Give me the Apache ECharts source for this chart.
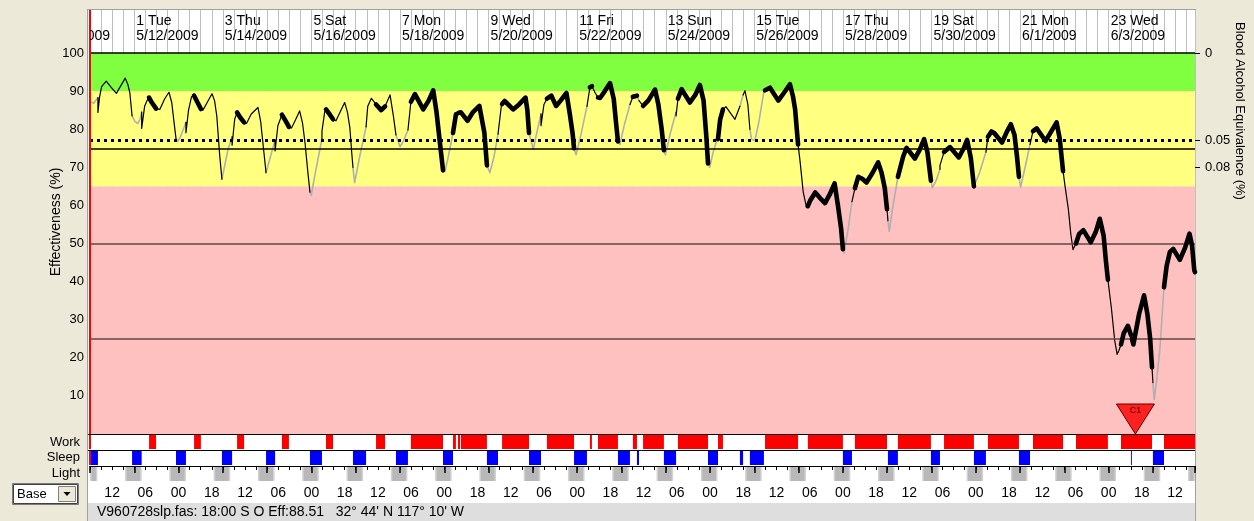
<!DOCTYPE html>
<html>
<head>
<meta charset="utf-8">
<script src="https://cdn.jsdelivr.net/npm/echarts@6/dist/echarts.min.js"></script>
<style>
  html, body { margin: 0; padding: 0; background: #ece9d8; }
  #wrap { position: relative; width: 1254px; height: 521px; overflow: hidden; }
  #panel { position: absolute; left: 87px; top: 9px; width: 1107px; height: 512px;
           background: #fff; border: 1px solid #a0a0a0; border-bottom: none; }
  #status { position: absolute; left: 88px; top: 503px; width: 1107px; height: 18px; background: #dedede; }
  #chart { position: absolute; left: 0; top: 0; width: 1254px; height: 521px; }
</style>
</head>
<body>
<div id="wrap">
  <div id="panel"></div>
  <div id="status"></div>
  <div id="chart"></div>
</div>
<script>
// ---- Schedule data (hours from 0:00 on 5/11/2009) ----

// Effectiveness (%) over time: [hour, value]; repeated hours mark the drop at wake-up
const effectiveness = [
  [0,87.3],[2.0,86.8],[4.3,88.3],[4.3,84.4],[5.2,88.5],[6.3,91.2],[8.8,92.6],[11.5,91.0],[14.3,89.4],[16.8,91.5],[19.1,93.4],[20.6,91.6],[21.6,89.5],[22.8,83.5],
  [24.4,82.0],[26.0,81.5],[27.2,82.8],[28.0,84.5],[28.0,80.2],
  [29.6,86.0],[31.0,87.6],[32.0,88.3],[33.5,87.0],[35.8,85.4],[37.8,85.2],[40.5,88.0],[42.8,89.7],[44.3,87.0],[45.5,82.0],[46.6,77.6],
  [47.6,76.8],[49.0,78.0],[51.0,80.5],[52.0,81.8],[52.0,79.1],
  [53.4,85.0],[55.0,88.5],[56.4,88.8],[58.3,87.0],[60.1,85.3],[61.2,85.0],[63.5,87.0],[66.1,89.3],[67.5,87.5],[68.7,83.5],[70.3,73.0],[71.5,66.9],
  [72.3,67.3],[74.8,74.7],[77.0,78.0],[77.0,75.8],
  [78.4,82.6],[79.7,84.4],[81.5,83.0],[83.5,81.8],[84.8,81.5],[87.4,84.0],[91.0,85.7],[92.5,82.0],[94.0,75.0],[95.4,68.6],
  [97.4,72.1],[100.3,77.2],[100.3,74.3],
  [101.8,80.9],[104.0,83.8],[106.0,82.2],[107.8,80.6],[109.2,80.3],[111.2,82.3],[113.6,84.8],[115.2,81.5],[116.5,76.5],[118.2,68.0],[119.2,63.5],
  [119.9,62.6],[121.7,67.5],[123.5,72.1],[125.7,77.5],[125.7,79.5],
  [127.2,84.6],[127.9,85.2],[130.0,83.8],[131.7,82.6],[133.3,82.2],[135.8,84.8],[138.0,87.0],[139.5,84.5],[140.8,80.5],[141.8,74.0],[142.5,70.0],
  [143.4,66.0],[146.1,72.7],[149.6,80.6],
  [150.5,86.0],[152.5,88.1],[155.0,86.5],[157.8,85.0],[159.9,86.0],[162.6,89.0],[164.4,83.5],[165.8,78.5],
  [168.0,75.4],[170.0,77.0],[172.3,79.8],
  [173.9,87.2],[176.1,89.2],[180.6,85.2],[183.5,87.5],[186.0,90.2],[187.8,84.4],[189.6,76.5],[191.3,69.2],
  [192.4,69.0],[194.2,72.9],[196.7,79.0],
  [198.3,83.9],[199.4,84.2],[200.5,84.4],[201.0,84.4],[204.6,82.2],[207.4,84.4],[211.0,86.1],[213.7,79.1],[215.1,70.5],
  [216.7,68.6],[218.8,72.5],[221.1,78.7],
  [222.9,86.1],[223.3,86.6],[224.7,87.4],[229.3,85.2],[232.5,86.5],[236.0,88.3],[237.0,85.0],[237.9,79.0],
  [240.2,74.7],[242.3,79.5],[244.4,84.0],[244.4,80.9],
  [246.0,86.5],[247.6,88.0],[250.0,88.8],[252.6,86.1],[255.0,87.5],[258.2,89.5],[260.0,84.0],[261.5,79.0],[262.3,75.0],
  [263.4,73.3],[266.0,78.5],[269.3,86.0],
  [270.9,91.0],[272.0,91.3],[273.8,89.5],[275.3,88.3],[276.4,88.2],[279.0,90.0],[281.8,92.1],[283.8,88.0],[285.2,81.0],[286.1,76.8],
  [287.2,76.0],[289.5,81.0],[292.6,86.5],
  [294.2,88.5],[296.4,88.8],[297.5,87.5],[299.7,86.1],[302.5,87.5],[306.2,90.4],[308.0,86.5],[309.8,80.0],[311.0,74.5],
  [311.8,73.3],[314.5,79.0],[317.6,84.5],[317.6,83.5],
  [318.6,88.0],[320.6,90.5],[325.1,87.0],[328.0,89.0],[330.5,91.6],[332.5,87.5],[334.0,78.0],[334.9,71.0],
  [335.8,70.0],[338.0,74.5],[340.3,78.0],[340.3,77.4],
  [341.5,82.6],[343.0,85.2],[344.6,85.9],[349.5,82.6],[352.2,86.0],[353.9,89.0],[354.9,90.1],[356.5,86.5],[357.6,80.0],
  [358.5,77.4],[360.3,77.0],[362.5,82.0],[365.2,90.0],
  [365.8,90.2],[368.5,90.9],[373.0,87.5],[376.0,89.5],[379.3,91.8],[381.0,88.5],[382.1,85.2],[383.7,76.0],
  [384.8,71.5],[386.5,63.5],[388.3,59.4],[389.0,59.8],
  [390.2,61.2],[393.0,63.4],[395.5,62.0],[398.3,60.6],[401.0,63.0],[403.5,65.8],[405.3,60.0],[407.0,54.0],[408.0,48.5],
  [408.6,47.5],[410.9,54.0],[412.9,61.0],
  [414.5,64.5],[416.3,67.5],[418.5,67.0],[420.8,66.0],[424.0,68.5],[427.1,71.3],[429.0,68.5],[430.7,64.5],[431.9,59.0],[432.4,56.0],
  [433.1,53.2],[435.0,59.5],[437.8,67.5],
  [440.7,72.9],[442.5,75.1],[447.0,72.3],[449.5,74.5],[452.0,77.4],[453.8,74.0],[455.7,66.5],
  [456.5,64.6],[458.5,66.5],[460.6,69.5],[460.6,70.5],
  [462.8,74.0],[466.0,75.3],[470.8,72.6],[473.5,75.0],[475.3,77.2],[477.3,72.5],[479.0,65.0],
  [479.6,64.5],[482.0,68.5],[485.5,74.0],
  [486.6,78.0],[488.5,79.4],[490.0,79.0],[494.2,76.5],[497.0,79.5],[499.0,81.3],[501.0,78.5],[502.3,73.0],[503.4,67.5],
  [504.3,64.8],[506.5,69.5],[509.4,76.0],
  [511.0,79.5],[513.0,80.2],[517.8,76.9],[521.0,79.5],[523.8,81.8],[525.5,77.5],[527.3,69.0],
  [528.4,65.0],[530.2,58.9],[531.5,52.5],[532.7,48.4],[533.5,48.8],
  [534.3,50.0],[536.0,52.5],[538.3,53.5],[542.3,50.3],[545.0,53.0],[547.2,56.5],[549.3,52.0],[550.5,45.5],[551.6,40.5],
  [553.5,33.0],[555.3,24.5],[556.6,20.9],[557.6,22.0],
  [558.7,23.5],[560.2,26.5],[562.4,28.4],[564.1,26.0],[564.6,25.0],[565.4,23.5],[568.5,31.5],[571.2,36.4],[573.0,31.5],[574.5,25.0],[575.5,17.5],[576.0,13.5],
  [576.7,9.0],[578.0,14.0],[579.8,22.5],[582.0,38.5],
  [583.4,44.0],[585.2,47.8],[587.0,48.6],[590.6,45.7],[593.5,49.0],[595.8,52.6],[597.2,49.5],[598.4,43.0],[598.8,42.5]
];

// Sleep periods [start, end] in hours
const sleepPeriods = [
  [0,4.3],[22.8,28.0],[46.6,52.0],[71.5,77.0],[95.4,100.3],[119.2,125.7],[142.5,149.6],[165.8,172.3],
  [191.3,196.7],[215.1,221.1],[237.9,244.4],[262.3,269.3],[286.1,292.6],[296.4,297.5],[311.0,317.6],
  [334.9,340.3],[352.2,353.9],[357.6,365.2],[408.0,412.9],[432.4,437.8],[455.7,460.6],[479.0,485.5],
  [503.4,509.4],[564.1,564.6],[576.0,582.0]
];

// Work periods [start, end] in hours
const workPeriods = [
  [32.0,35.8],[56.4,60.1],[79.7,83.5],[104.0,107.8],[127.9,131.7],[155.0,159.9],[173.9,191.3],
  [196.7,198.3],[199.4,200.5],[201.0,215.1],[223.3,237.9],[247.6,262.3],[270.9,272.0],[275.3,286.1],
  [294.2,296.4],[299.7,311.0],[318.6,334.9],[340.3,343.0],[365.8,383.7],[389.0,408.0],[414.5,431.9],
  [437.8,455.7],[462.8,479.0],[486.6,503.4],[511.0,527.3],[534.3,551.6],[558.7,575.5],[582.0,598.8]
];

// Darkness periods for the light row [start, end] in hours
const darkPeriods = [
  [-5,4],[19,28],[43,52],[67,76],[91,100],[115,124],[139,148],[163,172],[187,196],[211,220],
  [235,244],[259,268],[283,292],[307,316],[331,340],[355,364],[379,388],[403,412],[427,436],
  [451,460],[475,484],[499,508],[523,532],[547,556],[571,580],[595,604]
];

// Header date labels (day number from start, weekday, date)
const labelDays = [-1, 1, 3, 5, 7, 9, 11, 13, 15, 17, 19, 21, 23];
const labelWeekdays = ['Sun','Tue','Thu','Sat','Mon','Wed','Fri','Sun','Tue','Thu','Sat','Mon','Wed'];
const labelDates = ['5/10/2009','5/12/2009','5/14/2009','5/16/2009','5/18/2009','5/20/2009','5/22/2009',
                    '5/24/2009','5/26/2009','5/28/2009','5/30/2009','6/1/2009','6/3/2009'];

// Clock-hour tick labels along the bottom (hours from start)
const tickHours = [12,30,48,66,84,102,120,138,156,174,192,210,228,246,264,282,300,318,336,354,
                   372,390,408,426,444,462,480,498,516,534,552,570,588];

// Effectiveness zones and reference lines
const zoneBounds = [0, 65, 90, 100];
const criterionDotted = 77;
const criterionSolid = 75;
const guideLines = [50, 25];

// Blood alcohol equivalence scale (effectiveness value -> BAC label)
const bacAt = [100, 77, 70];
const bacLabels = ['0', '0.05', '0.08'];

// Marked events
const eventNames = ['C1'];
const eventHours = [566.5];

const startHour = 0;
const endHour = 598.8;

// ---- Layout ----
const FONT = '"Liberation Sans", Arial, sans-serif';
const L = 90, R = 59;
const rows = {
  header: { top: 10, height: 43 },
  main:   { top: 53, height: 381 },
  work:   { top: 435, height: 14 },
  sleep:  { top: 451, height: 14 },
  light:  { top: 466, height: 15 }
};
const C = {
  green: '#80ff40', yellow: '#ffff80', pink: '#ffc0c0',
  grid: '#c0c0c0', guide: '#5e4747', work: '#ff0000', sleep: '#0000ff',
  nightEdge: '#d2d2d2', night: '#b8b8b8', marker: '#ff2020', sleepLine: '#b0b0b0'
};

function inAny(h, periods) {
  return periods.some(p => h >= p[0] && h < p[1]);
}
function segClass(a, b) {
  if (a[0] === b[0]) return 'wake';
  const m = (a[0] + b[0]) / 2;
  if (inAny(m, sleepPeriods)) return 'sleep';
  if (inAny(m, workPeriods)) return 'work';
  return 'wake';
}

// Split the effectiveness trace into runs by activity state
const runs = [];
for (let i = 0; i < effectiveness.length - 1; i++) {
  const cls = segClass(effectiveness[i], effectiveness[i + 1]);
  const last = runs[runs.length - 1];
  if (last && last.cls === cls) last.pts.push(effectiveness[i + 1]);
  else runs.push({ cls, pts: [effectiveness[i], effectiveness[i + 1]] });
}
const runStyle = {
  sleep: { color: C.sleepLine, width: 1.6, z: 3 },
  wake:  { color: '#000', width: 1.2, z: 4 },
  work:  { color: '#000', width: 4.6, z: 5 }
};
const curveSeries = runs.map(r => ({
  type: 'line', xAxisIndex: 1, yAxisIndex: 1, data: r.pts,
  showSymbol: false, symbol: 'none', silent: true, z: runStyle[r.cls].z,
  lineStyle: { color: runStyle[r.cls].color, width: runStyle[r.cls].width, cap: 'round', join: 'round' }
}));

function intervalRender(fillFn) {
  return function (params, api) {
    const p0 = api.coord([api.value(0), 1]);
    const p1 = api.coord([api.value(1), 0]);
    const cs = params.coordSys;
    const shape = echarts.graphic.clipRectByRect(
      { x: p0[0], y: p0[1], width: p1[0] - p0[0], height: p1[1] - p0[1] },
      { x: cs.x, y: cs.y, width: cs.width, height: cs.height });
    if (!shape) return null;
    return fillFn(shape);
  };
}

const xBase = { type: 'value', min: startHour, max: endHour, interval: 6,
  axisLine: { show: false, onZero: false }, axisTick: { show: false }, axisLabel: { show: false }, splitLine: { show: false } };
const yUnit = (gi) => ({ type: 'value', gridIndex: gi, min: 0, max: 1, show: false });

function startLine(xi, yi) {
  return { type: 'line', xAxisIndex: xi, yAxisIndex: yi, data: [], silent: true, z: 8,
    markLine: { silent: true, symbol: ['none', 'none'], label: { show: false }, animation: false,
      lineStyle: { color: '#ff0000', width: 2, type: 'solid' }, data: [{ xAxis: startHour }] } };
}

const zoneColors = [C.pink, C.yellow, C.green];

const option = {
  animation: false,
  grid: [
    { left: L, right: R, top: rows.header.top, height: rows.header.height, backgroundColor: '#fff', show: true, borderWidth: 0 },
    { left: L, right: R, top: rows.main.top, height: rows.main.height },
    { left: L, right: R, top: rows.work.top, height: rows.work.height },
    { left: L, right: R, top: rows.sleep.top, height: rows.sleep.height },
    { left: L, right: R, top: rows.light.top, height: rows.light.height },
    { left: L, right: R, top: rows.light.top, height: rows.light.height }
  ],
  xAxis: [
    Object.assign({}, xBase, { gridIndex: 0, splitLine: { show: true, lineStyle: { color: C.grid, width: 1 } } }),
    Object.assign({}, xBase, { gridIndex: 1, splitLine: { show: true, lineStyle: { color: C.grid, width: 1 } } }),
    Object.assign({}, xBase, { gridIndex: 2 }),
    Object.assign({}, xBase, { gridIndex: 3 }),
    Object.assign({}, xBase, { gridIndex: 4, position: 'top', z: 6,
      axisLine: { show: true, onZero: false, lineStyle: { color: '#000', width: 1 } },
      axisTick: { show: true, inside: true, length: 4, lineStyle: { color: '#000', width: 1 } } }),
    Object.assign({}, xBase, { gridIndex: 4, position: 'bottom',
      axisLabel: { show: true, customValues: tickHours, margin: 5, color: '#000', fontSize: 14, fontFamily: FONT,
        formatter: v => String(Math.round(v) % 24).padStart(2, '0') } }),
    Object.assign({}, xBase, { gridIndex: 5, position: 'top', interval: 24, z: 6,
      axisLine: { show: false, onZero: false },
      axisTick: { show: true, inside: true, length: 7, lineStyle: { color: '#000', width: 1.5 } } })
  ],
  yAxis: [
    yUnit(0),
    { type: 'value', gridIndex: 1, min: 0, max: 100, interval: 10, position: 'left',
      axisLine: { show: false }, axisTick: { show: false },
      axisLabel: { color: '#000', fontSize: 13, fontFamily: FONT, margin: 6, formatter: v => (v === 0 ? '' : String(v)) },
      splitLine: { show: true, lineStyle: { color: C.grid, width: 1 } } },
    { type: 'value', gridIndex: 1, min: 0, max: 100, position: 'right',
      axisLine: { show: false }, splitLine: { show: false },
      axisTick: { show: true, customValues: bacAt, length: 5, lineStyle: { color: '#000', width: 1 } },
      axisLabel: { show: true, customValues: bacAt, margin: 10, color: '#000', fontSize: 13, fontFamily: FONT,
        formatter: v => bacLabels[bacAt.indexOf(v)] } },
    yUnit(2), yUnit(3), yUnit(4), yUnit(5)
  ],
  series: [
    // effectiveness zones
    { type: 'line', xAxisIndex: 1, yAxisIndex: 1, data: [], silent: true, z: -1,
      markArea: { silent: true, animation: false, label: { show: false },
        data: zoneColors.map((c, i) => [
          { yAxis: zoneBounds[i], itemStyle: { color: c, opacity: 1 } },
          { yAxis: zoneBounds[i + 1] }
        ]) } },
    // reference lines
    { type: 'line', xAxisIndex: 1, yAxisIndex: 1, data: [], silent: true, z: 1,
      markLine: { silent: true, symbol: ['none', 'none'], label: { show: false }, animation: false,
        data: [
          { yAxis: zoneBounds[3], lineStyle: { color: '#000', width: 1.5, type: 'solid' } },
          { yAxis: criterionDotted, lineStyle: { color: '#000', width: 3, type: [3, 4] } },
          { yAxis: criterionSolid, lineStyle: { color: '#000', width: 1.5, type: 'solid' } }
        ].concat(guideLines.map(v => ({ yAxis: v, lineStyle: { color: C.guide, width: 1.5, type: 'solid' } }))) } },
    // header date labels
    { type: 'custom', xAxisIndex: 0, yAxisIndex: 0, silent: true, z: 6,
      data: labelDays.map(d => [d * 24]),
      encode: { x: 0 },
      renderItem: function (params, api) {
        const i = params.dataIndex;
        const p = api.coord([api.value(0), 1]);
        const cs = params.coordSys;
        return { type: 'group',
          clipPath: { type: 'rect', shape: { x: cs.x, y: cs.y, width: cs.width, height: cs.height } },
          children: [{ type: 'text', x: p[0] + 2, y: p[1] + 3,
            style: { text: labelDays[i] + ' ' + labelWeekdays[i] + '\n' + labelDates[i],
              font: '14px ' + FONT, fill: '#000', lineHeight: 15.5, verticalAlign: 'top', align: 'left' } }] };
      } },
    // work row
    { type: 'custom', xAxisIndex: 2, yAxisIndex: 3, silent: true, data: workPeriods, encode: { x: [0, 1] },
      renderItem: intervalRender(s => ({ type: 'rect', shape: s, style: { fill: C.work } })) },
    // sleep row
    { type: 'custom', xAxisIndex: 3, yAxisIndex: 4, silent: true, data: sleepPeriods, encode: { x: [0, 1] },
      renderItem: intervalRender(s => ({ type: 'rect', shape: s, style: { fill: C.sleep } })) },
    // light row (darkness)
    { type: 'custom', xAxisIndex: 4, yAxisIndex: 5, silent: true, z: 1, data: darkPeriods, encode: { x: [0, 1] },
      renderItem: intervalRender(s => ({ type: 'group', children: [
        { type: 'rect', shape: s, style: { fill: C.nightEdge } },
        { type: 'rect', shape: { x: s.x + 1.5, y: s.y, width: Math.max(0, s.width - 3), height: s.height }, style: { fill: C.night } }
      ] })) },
    // event markers
    { type: 'custom', xAxisIndex: 1, yAxisIndex: 1, silent: true, z: 7,
      data: eventHours.map(h => [h]), encode: { x: 0 },
      renderItem: function (params, api) {
        const apex = api.coord([api.value(0), 0]);
        return { type: 'group', children: [
          { type: 'polygon', shape: { points: [[apex[0] - 19, apex[1] - 30], [apex[0] + 19, apex[1] - 30], [apex[0], apex[1]]] },
            style: { fill: C.marker, stroke: '#600000', lineWidth: 1 } },
          { type: 'text', x: apex[0], y: apex[1] - 23,
            style: { text: eventNames[params.dataIndex], font: '9px ' + FONT, fill: '#400000', align: 'center', verticalAlign: 'middle' } }
        ] };
      } },
    startLine(0, 0), startLine(1, 1), startLine(2, 3), startLine(3, 4)
  ].concat(curveSeries),
  graphic: [
    { type: 'line', shape: { x1: 88, y1: 434.5, x2: 1195, y2: 434.5 }, style: { stroke: '#000', lineWidth: 1 }, z: 10 },
    { type: 'line', shape: { x1: 88, y1: 450.5, x2: 1195, y2: 450.5 }, style: { stroke: '#000', lineWidth: 1 }, z: 10 },
    { type: 'text', x: 56, y: 222, rotation: Math.PI / 2,
      style: { text: 'Effectiveness (%)', font: '14px ' + FONT, fill: '#000', align: 'center', verticalAlign: 'middle' } },
    { type: 'text', x: 1240, y: 111, rotation: -Math.PI / 2,
      style: { text: 'Blood Alcohol Equivalence (%)', font: '13px ' + FONT, fill: '#000', align: 'center', verticalAlign: 'middle' } },
    { type: 'text', x: 80, y: 442, style: { text: 'Work', font: '13px ' + FONT, fill: '#000', align: 'right', verticalAlign: 'middle' } },
    { type: 'text', x: 80, y: 457, style: { text: 'Sleep', font: '13px ' + FONT, fill: '#000', align: 'right', verticalAlign: 'middle' } },
    { type: 'text', x: 80, y: 473, style: { text: 'Light', font: '13px ' + FONT, fill: '#000', align: 'right', verticalAlign: 'middle' } },
    // "Base" selector
    { type: 'rect', shape: { x: 12.5, y: 483.5, width: 66, height: 21 }, style: { fill: '#fff', stroke: '#7a7a7a', lineWidth: 1 } },
    { type: 'rect', shape: { x: 13.5, y: 484.5, width: 64, height: 19 }, style: { fill: 'none', stroke: '#404040', lineWidth: 1 } },
    { type: 'text', x: 17, y: 494.5, style: { text: 'Base', font: '13px ' + FONT, fill: '#000', verticalAlign: 'middle' } },
    { type: 'rect', shape: { x: 58.5, y: 486.5, width: 17, height: 15 }, style: { fill: '#ece9d8', stroke: '#808080', lineWidth: 1 } },
    { type: 'polygon', shape: { points: [[63.5, 492], [70.5, 492], [67, 496]] }, style: { fill: '#000' } },
    // status line
    { type: 'text', x: 97, y: 512.5,
      style: { text: "V960728slp.fas: 18:00 S O Eff:88.51   32\u00b0 44' N 117\u00b0 10' W", font: '14px ' + FONT, fill: '#000', verticalAlign: 'middle' } }
  ]
};

const chart = echarts.init(document.getElementById('chart'), null, { renderer: 'canvas' });
chart.setOption(option);
</script>
</body>
</html>
